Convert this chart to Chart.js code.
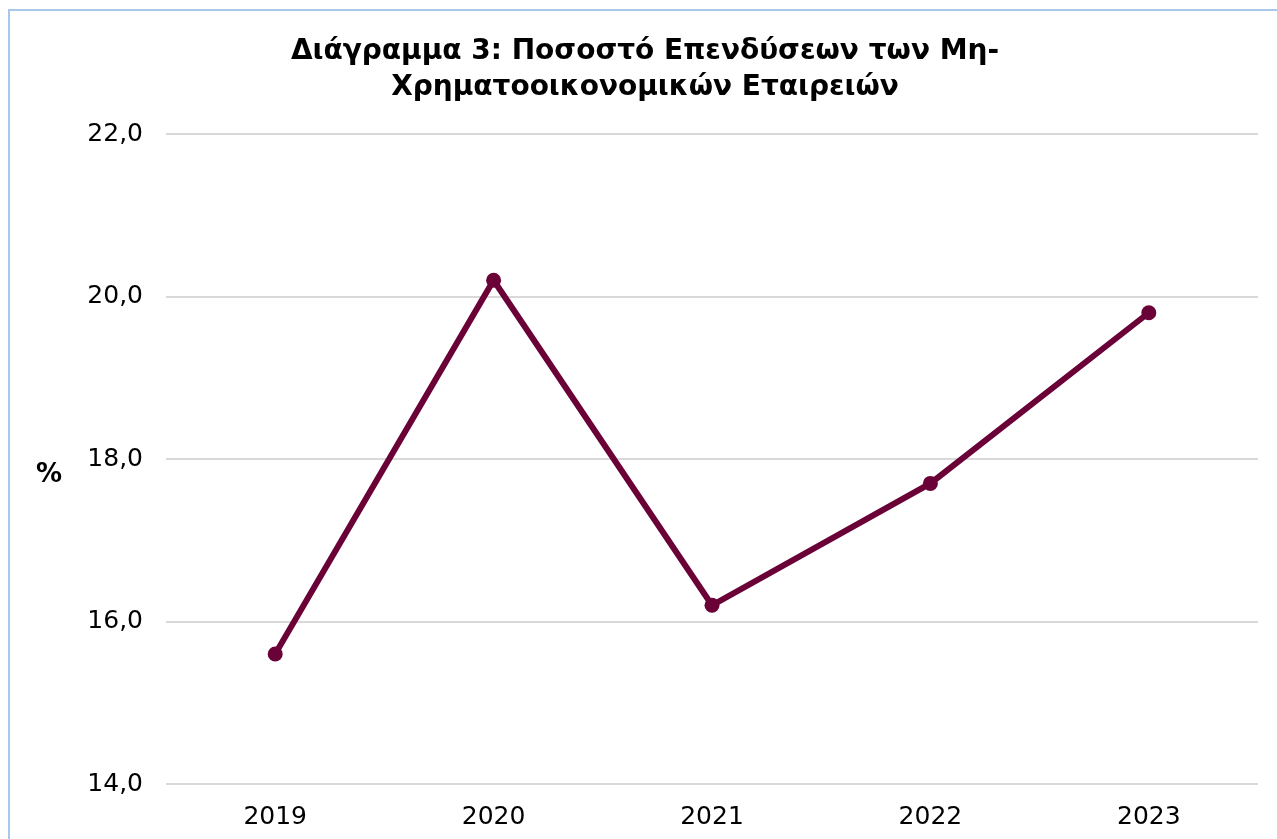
<!DOCTYPE html>
<html>
<head>
<meta charset="utf-8">
<script src="https://cdn.jsdelivr.net/npm/chart.js@4/dist/chart.umd.min.js"></script>
<style>
  body { margin: 0; background: #fff; overflow: hidden; }
  #wrap { position: relative; width: 1277px; height: 839px; }
  #frame {
    position: absolute; left: 8px; top: 9px; width: 1300px; height: 900px;
    border-left: 2px solid #a8c8ea; border-top: 2px solid #a8c8ea;
    pointer-events: none;
  }
</style>
</head>
<body>
<div id="wrap">
  <canvas id="chart" width="1277" height="839"></canvas>
  <div id="frame"></div>
</div>
<script>
const years = ['2019', '2020', '2021', '2022', '2023'];
const investmentRate = [15.6, 20.2, 16.2, 17.7, 19.8];
const titleLines = ['Διάγραμμα 3: Ποσοστό Επενδύσεων των Μη-', 'Χρηματοοικονομικών Εταιρειών'];
const yUnit = '%';

const FONT = "'DejaVu Sans', Verdana, sans-serif";
const LINE_COLOR = '#6b0237';

// the "%" label sits horizontally left of the axis, so draw it ourselves
const unitLabel = {
  id: 'unitLabel',
  afterDraw(chart) {
    const { ctx, chartArea } = chart;
    ctx.save();
    ctx.font = 'bold 26px ' + FONT;
    ctx.fillStyle = '#000';
    ctx.textAlign = 'center';
    ctx.textBaseline = 'middle';
    ctx.fillText(yUnit, 49, (chartArea.top + chartArea.bottom) / 2 + 16);
    ctx.restore();
  }
};

new Chart(document.getElementById('chart').getContext('2d'), {
  type: 'line',
  data: {
    labels: years,
    datasets: [{
      data: investmentRate,
      borderColor: LINE_COLOR,
      backgroundColor: LINE_COLOR,
      borderWidth: 6,
      pointRadius: 7.5,
      pointBackgroundColor: LINE_COLOR,
      pointBorderWidth: 0,
      tension: 0,
      fill: false
    }]
  },
  options: {
    responsive: false,
    animation: false,
    layout: { padding: { left: 32, right: 19, top: 0, bottom: 0 } },
    plugins: {
      legend: { display: false },
      tooltip: { enabled: false },
      title: {
        display: true,
        text: titleLines,
        color: '#000',
        font: { family: FONT, size: 28, weight: 'bold', lineHeight: 36 / 28 },
        padding: { top: 34, bottom: 28 }
      }
    },
    scales: {
      x: {
        offset: true,
        grid: { display: false },
        border: { display: false },
        ticks: {
          color: '#000',
          padding: 10,
          font: { family: FONT, size: 25 }
        },
        afterFit(scale) { scale.height = 55; }
      },
      y: {
        min: 14,
        max: 22,
        grid: { color: '#d9d9d9', lineWidth: 2, drawTicks: false },
        border: { display: false },
        ticks: {
          stepSize: 2,
          color: '#000',
          padding: 23,
          font: { family: FONT, size: 25 },
          callback: v => v.toFixed(1).replace('.', ',')
        },
        afterFit(scale) { scale.width = 134; }
      }
    }
  },
  plugins: [unitLabel]
});
</script>
</body>
</html>
